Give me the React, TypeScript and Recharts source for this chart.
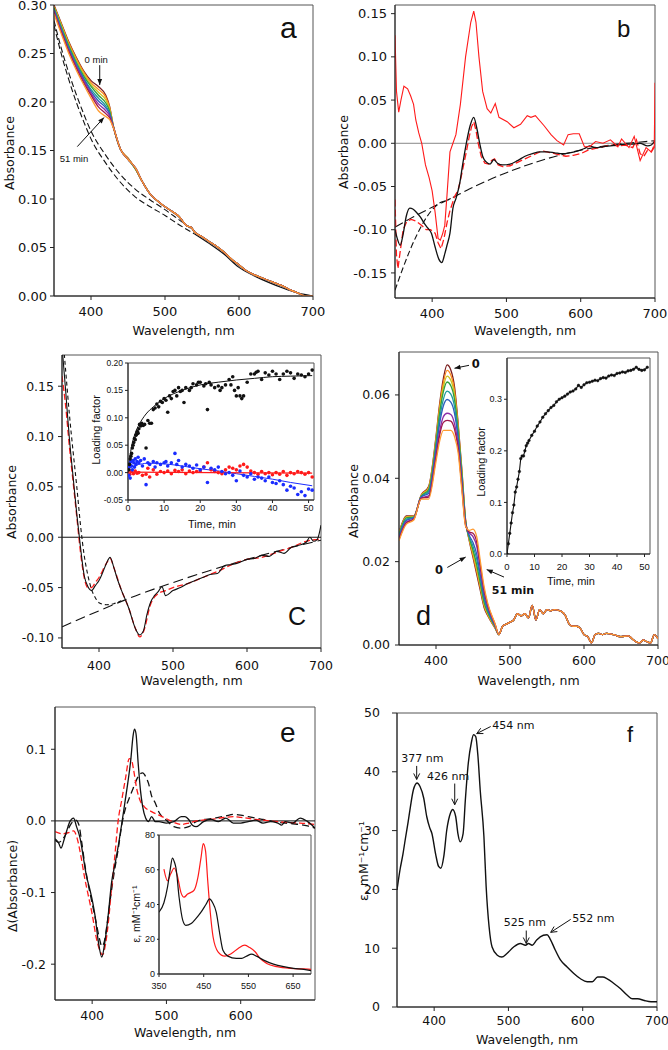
import React from 'react'
import {
  LineChart, ComposedChart, Line, Scatter, XAxis, YAxis,
  ReferenceLine, ReferenceArea, ReferenceDot,
} from 'recharts'

// ---------- panel a: spectra during loading, 0 .. 51 min ----------
const aWl = [350, 360, 370, 380, 390, 400, 410, 420, 425, 430, 440, 450, 460, 470]
const aCurves = [
  [.300, .281, .262, .246, .232, .222, .216, .207, .196, .176, .151, .142, .131, .117],
  [.299, .280, .261, .245, .231, .220, .213, .205, .195, .176, .151, .142, .131, .117],
  [.298, .279, .259, .243, .229, .218, .210, .202, .193, .176, .151, .142, .131, .117],
  [.297, .277, .258, .241, .227, .216, .207, .199, .191, .175, .151, .141, .131, .117],
  [.296, .276, .256, .240, .225, .213, .204, .196, .189, .175, .151, .141, .132, .117],
  [.295, .274, .255, .238, .224, .211, .201, .194, .188, .175, .151, .141, .132, .117],
  [.294, .273, .253, .237, .222, .209, .198, .191, .186, .175, .151, .141, .132, .117],
  [.292, .272, .252, .235, .220, .207, .195, .188, .184, .174, .151, .141, .132, .117],
  [.291, .270, .250, .233, .218, .204, .191, .185, .182, .174, .151, .141, .132, .117],
]
const aTailWl = [480, 490, 500, 510, 520, 525, 530, 535, 540, 550, 560, 570, 580, 590, 600, 610, 620, 630, 640, 650, 660, 670, 680, 690, 700]
const aTail = [.105, .098, .092, .087, .081, .076, .072, .071, .066, .061, .056, .051, .045, .038, .032, .026, .022, .019, .016, .013, .010, .006, .003, .000, .000]
const aDashWl = [350, 360, 370, 380, 390, 400, 420, 440, 460, 480, 500, 520, 540]
const aDash1 = [.284, .255, .230, .208, .188, .170, .145, .125, .110, .099, .089, .078, .067]
const aDash2 = [.279, .249, .223, .200, .180, .162, .137, .117, .102, .092, .083, .073, .064]
const aFitWl = [540, 560, 580, 600, 620, 640, 660, 680, 700]
const aFit = [.064, .054, .043, .0295, .021, .014, .008, .003, 0]

// ---------- panel b: difference spectra ----------
const bRedWl = [350, 352, 355, 358, 362, 367, 371, 375, 378, 382, 386, 391, 396, 400, 404, 408, 411, 414, 417, 420, 424, 428, 432, 438, 445, 452, 456, 459, 463, 468, 474, 479, 485, 490, 501, 510, 519, 528, 533, 539, 551, 560, 568, 577, 583, 590, 598, 605, 612, 620, 630, 640, 650, 655, 665, 672, 680, 688, 695, 699, 700]
const bRed = [.125, .06, .036, .05, .066, .063, .055, .045, .027, .012, .0, -.025, -.04, -.055, -.08, -.11, -.112, -.105, -.095, -.06, -.01, .0, .01, .045, .10, .14, .153, .14, .10, .06, .04, .035, .046, .03, .025, .018, .022, .032, .030, .032, .020, .010, .003, -.002, .010, .011, .011, -.004, -.004, .002, .0, .004, -.004, .005, -.005, .008, -.02, -.005, -.01, -.005, .07]
const bBlackWl = [350, 353, 357, 361, 365, 370, 374, 379, 384, 389, 394, 399, 404, 409, 413, 417, 420, 424, 428, 432, 437, 441, 446, 451, 456, 460, 464, 468, 472, 478, 483, 488, 495, 505, 515, 525, 535, 545, 555, 565, 575, 585, 595, 605, 612, 620, 630, 640, 650, 660, 670, 680, 690, 695, 700]
const bBlack = [-.100, -.110, -.118, -.105, -.085, -.075, -.076, -.080, -.085, -.092, -.098, -.104, -.12, -.134, -.138, -.128, -.118, -.104, -.075, -.064, -.047, -.025, .0, .02, .03, .018, .0, -.015, -.021, -.024, -.019, -.023, -.025, -.024, -.020, -.015, -.012, -.010, -.010, -.011, -.012, -.011, -.009, -.006, -.003, -.005, -.004, -.003, -.002, -.001, -.001, .0, -.003, -.002, .003]
const bRedDWl = [350, 352, 354, 357, 361, 366, 372, 378, 386, 392, 398, 404, 408, 412, 416, 420, 424, 430, 435, 440, 446, 450, 453, 456, 459, 462, 466, 471, 476, 480, 484, 489, 495, 505, 515, 525, 535, 545, 550, 560, 570, 580, 590, 600, 610, 620, 630, 640, 650, 660, 670, 675, 680, 685, 690, 695, 700]
const bRedD = [-.065, -.13, -.145, -.125, -.10, -.09, -.088, -.09, -.095, -.10, -.10, -.104, -.115, -.122, -.11, -.092, -.078, -.062, -.054, -.035, -.01, .008, .019, .025, .015, .0, -.015, -.023, -.024, -.02, -.018, -.025, -.027, -.026, -.022, -.018, -.014, -.010, -.009, -.011, -.013, -.015, -.014, -.012, -.008, -.006, -.004, -.002, -.003, -.002, -.005, .004, -.012, -.015, -.008, -.01, .0]
const bFit1Wl = [350, 375, 400, 425, 450, 475, 500, 525, 550, 575, 600, 625, 650, 675, 700]
const bFit1 = [-.097, -.085, -.074, -.064, -.053, -.043, -.034, -.026, -.019, -.013, -.008, -.004, -.001, .001, .003]
const bFit2Wl = [350, 360, 370, 380, 390, 400, 410, 420, 425]
const bFit2 = [-.17, -.146, -.124, -.105, -.089, -.077, -.069, -.066, -.064]

// ---------- panel c ----------
const cBlackWl = [350, 355, 360, 365, 370, 375, 380, 385, 390, 395, 400, 405, 410, 415, 420, 425, 430, 440, 450, 455, 460, 465, 470, 475, 480, 485, 490, 500, 510, 520, 530, 540, 550, 560, 570, 580, 590, 600, 610, 620, 630, 640, 650, 660, 670, 680, 685, 690, 695, 700]
const cBlack = [.19, .145, .098, .060, .023, -.010, -.038, -.049, -.053, -.048, -.043, -.035, -.026, -.020, -.030, -.042, -.052, -.070, -.092, -.097, -.093, -.076, -.064, -.058, -.054, -.049, -.058, -.053, -.050, -.046, -.043, -.040, -.037, -.036, -.028, -.027, -.025, -.022, -.021, -.018, -.019, -.014, -.016, -.010, -.008, -.005, .000, -.004, -.002, .012]
const cRedWl = [350, 355, 360, 365, 370, 375, 380, 385, 390, 395, 400, 410, 415, 420, 430, 440, 450, 455, 460, 470, 480, 490, 500, 520, 540, 560, 580, 600, 620, 640, 660, 680, 700]
const cRed = [.16, .13, .09, .055, .02, -.015, -.040, -.050, -.050, -.045, -.040, -.026, -.021, -.030, -.052, -.070, -.092, -.099, -.094, -.066, -.056, -.053, -.050, -.046, -.040, -.034, -.027, -.022, -.020, -.015, -.010, -.004, -.002]
const cShortWl = [350, 355, 360, 365, 370, 375, 380, 385, 390, 395, 400, 410, 420, 430]
const cShort = [.21, .165, .122, .085, .05, .012, -.018, -.038, -.052, -.060, -.065, -.067, -.066, -.063]
const cLongWl = [350, 400, 450, 500, 550, 600, 650, 700]
const cLong = [-.089, -.073, -.058, -.045, -.033, -.022, -.012, -.003]

// panel c inset: loading factors vs time
const cBlackT = [0.2, 0.4, 0.6, 0.8, 1, 1.2, 1.4, 1.6, 1.8, 2, 2.2, 2.4, 2.6, 2.8, 3, 3.2, 3.5, 3.8, 4.2, 4.6, 5, 5.5, 6, 6.5, 7, 7.5, 8, 8.5, 9, 9.5, 10, 10.5, 11, 11.5, 12, 12.5, 13, 13.5, 14, 14.5, 15, 15.5, 16, 17, 17.5, 18, 19, 19.5, 20, 21, 21.5, 22, 22.5, 23, 24, 25, 25.5, 26, 27, 28, 28.5, 29, 29.5, 30, 30.5, 31, 31.5, 32, 33, 34, 35, 35.5, 36, 37, 38, 39, 40, 41, 42, 43, 44, 45, 46, 47, 48, 49, 50, 51]
const cBlackV = [0.005, 0.015, 0.025, 0.03, 0.035, 0.045, 0.05, 0.055, 0.062, 0.06, 0.068, 0.07, 0.075, 0.072, 0.08, 0.088, 0.085, 0.09, 0.086, 0.088, 0.045, 0.095, 0.09, 0.09, 0.115, 0.118, 0.125, 0.12, 0.13, 0.128, 0.135, 0.132, 0.11, 0.14, 0.135, 0.148, 0.15, 0.14, 0.155, 0.148, 0.15, 0.128, 0.155, 0.15, 0.155, 0.162, 0.16, 0.165, 0.165, 0.158, 0.162, 0.115, 0.165, 0.16, 0.155, 0.158, 0.15, 0.155, 0.16, 0.17, 0.16, 0.175, 0.15, 0.14, 0.155, 0.14, 0.135, 0.14, 0.165, 0.18, 0.18, 0.183, 0.185, 0.17, 0.182, 0.178, 0.185, 0.18, 0.17, 0.18, 0.185, 0.182, 0.172, 0.18, 0.178, 0.175, 0.18, 0.187]
const cBlueT = [0.2, 0.3, 0.5, 0.6, 0.8, 1, 1.2, 1.4, 1.6, 1.8, 2, 2.2, 2.5, 2.8, 3, 3.5, 4, 4.5, 5, 5.5, 6, 7, 7.5, 8, 9, 10, 10.5, 11, 12, 13, 13.5, 14, 15, 16, 17, 18, 19, 20, 21, 22, 23, 24, 25, 26, 27, 28, 29, 30, 31, 32, 33, 34, 35, 36, 37, 38, 39, 40, 41, 42, 43, 44, 45, 46, 47, 48, 49, 50, 51]
const cBlueV = [-0.005, 0.01, 0.015, -0.01, 0.02, 0.012, 0.005, 0.022, 0.018, 0.01, 0.025, 0.015, 0.02, 0.028, 0.018, 0.022, 0.012, 0.025, -0.022, 0.018, 0.015, 0.02, 0.01, 0.018, 0.015, 0.018, 0.02, 0.012, 0.018, 0.035, 0.015, 0.022, 0.01, 0.015, 0.012, 0.008, 0.014, 0.005, 0.01, -0.018, 0.008, 0.005, 0.01, 0.002, -0.002, 0, -0.005, -0.015, 0.003, -0.005, -0.008, -0.002, -0.012, -0.008, -0.01, -0.015, -0.008, -0.018, -0.02, -0.015, -0.022, -0.032, -0.025, -0.028, -0.04, -0.035, -0.042, -0.03, -0.032]
const cRedT = [0.2, 0.5, 1, 1.5, 2, 2.5, 3, 4, 5, 5.5, 6, 7, 8, 9, 10, 11, 12, 13, 14, 15, 16, 17, 18, 19, 20, 21, 22, 23, 24, 25, 26, 27, 28, 29, 30, 31, 32, 33, 34, 35, 36, 37, 38, 39, 40, 41, 42, 43, 44, 45, 46, 47, 48, 49, 50, 51]
const cRedV = [0.005, -0.003, 0.002, -0.002, 0.003, -0.001, 0, -0.005, -0.003, 0.008, -0.008, 0.005, -0.003, 0.002, 0, 0.003, -0.002, 0.004, 0.002, 0.005, -0.002, 0.003, 0, 0.002, 0.003, 0.01, 0.018, 0.005, 0.002, 0, -0.002, 0.005, 0.01, 0.008, 0.005, 0.012, 0.015, 0.01, 0.003, 0, -0.003, 0.002, -0.002, 0, -0.004, 0, -0.003, 0.002, -0.005, 0, -0.002, 0.002, 0, -0.003, 0, -0.008]
const cFitT = [0, 0.5, 1, 2, 3, 4, 5, 7, 10, 15, 20, 25, 30, 35, 40, 45, 51]
const cFitBlack = [0, 0.028, 0.048, 0.072, 0.087, 0.098, 0.107, 0.12, 0.135, 0.150, 0.160, 0.165, 0.169, 0.172, 0.175, 0.176, 0.177]
const cFitBlue = [0.005, 0.008, 0.010, 0.013, 0.015, 0.016, 0.017, 0.017, 0.016, 0.012, 0.007, 0.003, -0.002, -0.007, -0.012, -0.018, -0.024]
const cFitRedT = [0, 51]
const cFitRed = [0.001, -0.001]

// ---------- panel d ----------
const dWl = [350, 360, 370, 380, 390, 400, 405, 410, 415, 420, 425, 430, 435, 440, 445, 450, 455, 460, 465, 470, 480]
const dCurves = [
  [.027, .031, .031, .036, .038, .050, .058, .064, .0672, .066, .062, .053, .042, .030, .025, .021, .017, .013, .009, .007, .004],
  [.0268, .0308, .0309, .0359, .0378, .0495, .0573, .0630, .0659, .0648, .0610, .0524, .0416, .0299, .0252, .0215, .0177, .0136, .0094, .0072, .0041],
  [.0267, .0307, .0308, .0358, .0375, .0490, .0565, .0619, .0645, .0635, .0600, .0518, .0412, .0297, .0254, .0222, .0185, .0142, .0099, .0075, .0042],
  [.0265, .0305, .0307, .0357, .0372, .0484, .0557, .0608, .0631, .0622, .0589, .0512, .0407, .0296, .0257, .0228, .0193, .0148, .0103, .0078, .0043],
  [.0262, .0302, .0306, .0356, .0368, .0476, .0544, .0590, .0609, .0602, .0572, .0502, .0400, .0294, .0260, .0237, .0206, .0158, .0110, .0082, .0044],
  [.0259, .0299, .0305, .0355, .0364, .0468, .0532, .0574, .0589, .0583, .0556, .0493, .0394, .0292, .0263, .0246, .0218, .0167, .0117, .0086, .0045],
  [.0255, .0295, .0303, .0353, .0358, .0456, .0513, .0548, .0556, .0553, .0531, .0478, .0383, .0289, .0269, .0260, .0237, .0182, .0127, .0092, .0047],
  [.0253, .0293, .0302, .0352, .0355, .0449, .0504, .0534, .0539, .0537, .0518, .0471, .0378, .0287, .0271, .0268, .0247, .0190, .0133, .0096, .0049],
  [.025, .029, .030, .035, .035, .044, .049, .0515, .0515, .0515, .050, .046, .037, .0285, .0275, .0278, .026, .020, .014, .010, .005],
]
const dTailWl = [485, 490, 495, 500, 505, 510, 515, 520, 525, 530, 535, 540, 545, 550, 555, 560, 570, 575, 580, 585, 590, 595, 600, 605, 610, 615, 620, 625, 630, 640, 650, 660, 665, 670, 675, 680, 685, 690, 695, 700]
const dTail = [.0025, .0045, .005, .0055, .006, .0075, .007, .0075, .0065, .0095, .006, .0085, .0075, .0085, .0082, .0085, .008, .007, .005, .0045, .0045, .004, .0025, .002, .0005, .0025, .0028, .0025, .0028, .0025, .002, .0022, .0015, .0008, .0005, .0012, .0008, .0005, .0025, .0015]
const dInT = [0, 0.5, 1, 1.5, 2, 2.5, 3, 3.5, 4, 4.5, 5, 5.5, 6, 6.5, 7, 7.5, 8, 9, 10, 11, 12, 13, 14, 15, 16, 17, 18, 19, 20, 21, 22, 23, 24, 25, 26, 27, 28, 29, 30, 31, 32, 33, 34, 35, 36, 37, 38, 39, 40, 41, 42, 43, 44, 45, 46, 47, 48, 49, 50, 51]
const dInV = [0, 0.02, 0.04, 0.06, 0.08, 0.095, 0.12, 0.13, 0.145, 0.16, 0.185, 0.19, 0.19, 0.2, 0.21, 0.215, 0.22, 0.23, 0.238, 0.248, 0.256, 0.265, 0.272, 0.278, 0.284, 0.288, 0.295, 0.3, 0.303, 0.306, 0.31, 0.314, 0.316, 0.32, 0.327, 0.323, 0.328, 0.332, 0.333, 0.335, 0.337, 0.336, 0.34, 0.342, 0.341, 0.345, 0.347, 0.346, 0.35, 0.351, 0.353, 0.352, 0.355, 0.356, 0.358, 0.362, 0.358, 0.356, 0.357, 0.362]

// ---------- panel e ----------
const eBlackWl = [350, 355, 358, 362, 366, 370, 375, 379, 384, 388, 392, 397, 401, 404, 408, 413, 417, 422, 426, 431, 435, 440, 444, 448, 452, 455, 457, 459, 462, 465, 468, 472, 476, 480, 485, 490, 500, 510, 520, 525, 530, 535, 540, 550, 560, 570, 580, 590, 600, 610, 620, 630, 640, 650, 655, 660, 670, 680, 690, 695, 700]
const eBlack = [-.025, -.031, -.038, -.027, -.013, -.001, .004, -.008, -.025, -.050, -.075, -.096, -.115, -.133, -.166, -.190, -.170, -.128, -.087, -.059, -.036, -.003, .025, .053, .085, .118, .128, .122, .080, .043, .020, .004, -.001, .006, -.001, -.001, -.003, -.001, .006, .006, .002, -.006, -.008, -.001, .002, -.001, .004, -.003, -.003, -.001, .001, -.003, -.001, -.003, -.006, -.001, -.003, .004, -.001, -.005, -.010]
const eDashWl = [350, 355, 360, 365, 370, 374, 378, 382, 386, 390, 395, 400, 405, 410, 413, 416, 420, 425, 430, 435, 440, 445, 450, 455, 460, 465, 468, 472, 476, 480, 485, 490, 500, 510, 520, 530, 540, 550, 560, 570, 580, 590, 600, 610, 620, 630, 640, 650, 660, 670, 680, 690, 700]
const eDash = [-.027, -.030, -.026, -.018, -.007, -.001, .001, -.005, -.03, -.06, -.09, -.115, -.14, -.165, -.175, -.17, -.145, -.105, -.07, -.04, -.005, .018, .032, .045, .058, .066, .067, .062, .052, .035, .025, .012, .001, -.008, -.010, -.008, -.001, .002, .003, .005, .007, .009, .008, .006, .004, .002, .0, -.002, -.003, -.004, -.005, -.007, -.010]
const eRedWl = [350, 360, 370, 375, 380, 385, 390, 395, 400, 405, 410, 414, 418, 422, 426, 430, 435, 440, 445, 450, 453, 456, 460, 464, 470, 480, 490, 500, 510, 520, 530, 540, 560, 580, 590, 600, 620, 640, 660, 680, 700]
const eRed = [-.015, -.018, -.016, -.014, -.025, -.05, -.08, -.105, -.13, -.16, -.18, -.187, -.172, -.14, -.095, -.055, .0, .030, .06, .087, .085, .07, .045, .03, .02, .013, .008, .003, -.002, -.005, -.003, .0, .002, .005, .006, .005, .002, .0, -.002, -.003, -.005]
const eInBlackWl = [350, 361, 369, 375, 380, 385, 388, 395, 403, 410, 422, 433, 444, 455, 463, 470, 478, 486, 493, 504, 523, 535, 546, 557, 568, 584, 606, 629, 651, 674, 690]
const eInBlack = [35.6, 41, 50, 60, 66.7, 64, 61, 44, 31, 28, 29, 32, 35.6, 40, 43.2, 41, 35.6, 23, 13.7, 10.3, 9, 9, 10.3, 11.4, 10.3, 8, 5.7, 4.2, 3.2, 2.7, 1.9]
const eInRedWl = [361, 369, 376, 384, 391, 399, 406, 414, 422, 429, 437, 444, 449, 454, 459, 465, 471, 482, 497, 512, 527, 542, 553, 565, 576, 591, 614, 644, 674, 690]
const eInRed = [60.4, 53.7, 57.5, 61, 56.6, 47, 44.2, 46, 47, 48.4, 55.6, 67, 75, 71, 53.7, 34.7, 21.3, 12.8, 10.3, 11.8, 14.7, 16.6, 15.2, 12.8, 9, 6.1, 4.2, 3.2, 2.9, 2.7]

// ---------- panel f ----------
const fWl = [350, 354, 358, 361, 365, 368, 372, 377, 381, 386, 390, 394, 397, 402, 406, 409, 413, 417, 422, 425, 429, 432, 435, 439, 442, 446, 450, 453, 456, 459, 462, 467, 470, 474, 478, 485, 491, 498, 507, 516, 523, 527, 532, 538, 547, 552, 556, 563, 570, 579, 588, 597, 606, 613, 620, 627, 633, 642, 651, 660, 667, 674, 683, 692, 700]
const fEps = [19.9, 23.3, 26, 28.4, 31.5, 34, 36.9, 38.1, 37.5, 35.5, 32.4, 30.5, 29.5, 26, 23.9, 23.6, 25.6, 30.1, 33, 33.6, 32.4, 29.5, 28.1, 29.5, 35.2, 41.5, 44.9, 46.3, 46, 42.6, 36.9, 29, 20.5, 13.6, 10.2, 8.8, 8.5, 9.1, 10.2, 10.8, 10.5, 10.8, 10.5, 11.4, 12.2, 12.3, 11.6, 9.7, 8, 6.8, 5.7, 4.8, 4.3, 4.3, 5.1, 5.1, 4.8, 4, 3.1, 2, 1.4, 1.4, 1.1, 0.9, 0.9]

const WL_TICKS = [400, 500, 600, 700]
const FAMILY = ['#7a1c1c', '#ff8a1c', '#c9c21e', '#2f9e3b', '#1e9b9b', '#2b5fbb', '#8b2ea8', '#a0184a', '#ff9b30']
const RED = '#ff1a1a'
const AX = '#222'
const BOX = '#555'
const INSET_FONT = '"Liberation Sans", Arial, sans-serif'

const pts = (xs: number[], ys: number[]) => xs.map((x, i) => ({ x, y: ys[i] }))

const yTitle = (text: string, x: number, cy: number, size = 12.5, family?: string) => ({
  content: () => (
    <text x={x} y={cy} transform={`rotate(-90 ${x} ${cy})`} textAnchor="middle" fontSize={size} fill="#111" fontFamily={family}>{text}</text>
  ),
})
const xTitle = (text: string, cx: number, y: number, size = 12.5, family?: string) => ({
  content: () => (
    <text x={cx} y={y} textAnchor="middle" fontSize={size} fill="#111" fontFamily={family}>{text}</text>
  ),
})

const textShape = (text: string, size: number, anchor: 'start' | 'middle' | 'end' = 'middle', extra: any = {}) =>
  (p: any) => <text x={p.cx} y={p.cy} fontSize={size} textAnchor={anchor} fill="#111" {...extra}>{text}</text>

const arrowShape = (filled: boolean) => (p: any) => {
  const { x1, y1, x2, y2 } = p
  const a = Math.atan2(y2 - y1, x2 - x1)
  const L = 6
  const W = filled ? 2.4 : 3
  const bx = x2 - L * Math.cos(a)
  const by = y2 - L * Math.sin(a)
  const ox = W * Math.sin(a)
  const oy = -W * Math.cos(a)
  const head = `${bx + ox},${by + oy} ${x2},${y2} ${bx - ox},${by - oy}`
  return (
    <g>
      <line x1={x1} y1={y1} x2={x2} y2={y2} stroke="#111" strokeWidth={1} />
      {filled ? <polygon points={head} fill="#111" /> : <polyline points={head} fill="none" stroke="#111" strokeWidth={1} />}
    </g>
  )
}

const lineProps = { dataKey: 'y', dot: false, activeDot: false, isAnimationActive: false, type: 'monotone' as const, strokeWidth: 1.3 }

function Place({ left, top, children }: { left: number; top: number; children: React.ReactNode }) {
  return <div style={{ position: 'absolute', left, top }}>{children}</div>
}

function PanelA() {
  return (
    <Place left={0} top={0}>
      <LineChart width={325} height={341} margin={{ top: 5, right: 12, bottom: 0, left: 0 }}>
        <XAxis type="number" dataKey="x" domain={[350, 700]} ticks={WL_TICKS} interval={0} allowDataOverflow height={45}
          tickSize={4} tickMargin={7} stroke={AX} tick={{ fontSize: 13, fill: '#111' }} label={xTitle('Wavelength, nm', 183.5, 335)} />
        <YAxis type="number" domain={[0, 0.3]} ticks={[0, 0.05, 0.1, 0.15, 0.2, 0.25, 0.3]} interval={0} allowDataOverflow width={54}
          tickSize={4} tickMargin={3} stroke={AX} tick={{ fontSize: 13, fill: '#111' }} tickFormatter={(v: number) => v.toFixed(2)}
          label={yTitle('Absorbance', 14, 153)} />
        <ReferenceArea x1={350} x2={700} y1={0} y2={0.3} fill="none" stroke={BOX} />
        <Line {...lineProps} data={pts(aDashWl, aDash1)} stroke="#111" strokeWidth={1.1} strokeDasharray="6 3" />
        <Line {...lineProps} data={pts(aDashWl, aDash2)} stroke="#111" strokeWidth={1.1} strokeDasharray="6 3" />
        <Line {...lineProps} data={pts(aFitWl, aFit)} stroke="#111" strokeWidth={1.2} />
        {aCurves.map((c, i) => (
          <Line key={i} {...lineProps} data={[...pts(aWl, c), ...pts(aTailWl, aTail)]} stroke={FAMILY[i]} />
        ))}
        <ReferenceLine segment={[{ x: 411.8, y: 0.238 }, { x: 411.8, y: 0.2175 }]} shape={arrowShape(true)} />
        <ReferenceLine segment={[{ x: 381.5, y: 0.154 }, { x: 417.6, y: 0.184 }]} shape={arrowShape(true)} />
        <ReferenceDot x={407} y={0.240} shape={textShape('0 min', 9.5, 'middle', { fontFamily: INSET_FONT })} />
        <ReferenceDot x={377} y={0.138} shape={textShape('51 min', 9.5, 'middle', { fontFamily: INSET_FONT })} />
        <ReferenceDot x={655.4} y={0.266} shape={textShape('a', 30, 'start', { fontFamily: INSET_FONT })} />
      </LineChart>
    </Place>
  )
}

function PanelB() {
  return (
    <Place left={334} top={0}>
      <LineChart width={333} height={340} margin={{ top: 5, right: 12, bottom: 0, left: 0 }}>
        <XAxis type="number" dataKey="x" domain={[350, 700]} ticks={WL_TICKS} interval={0} allowDataOverflow height={42}
          tickSize={4} tickMargin={7} stroke={AX} tick={{ fontSize: 13, fill: '#111' }} label={xTitle('Wavelength, nm', 191, 335)} />
        <YAxis type="number" domain={[-0.179, 0.16]} ticks={[-0.15, -0.1, -0.05, 0, 0.05, 0.1, 0.15]} interval={0} allowDataOverflow width={61}
          tickSize={4} tickMargin={4} stroke={AX} tick={{ fontSize: 13, fill: '#111' }} tickFormatter={(v: number) => v.toFixed(2)}
          label={yTitle('Absorbance', 14, 152)} />
        <ReferenceArea x1={350} x2={700} y1={-0.179} y2={0.16} fill="none" stroke={BOX} />
        <ReferenceLine y={0} stroke="#888" strokeWidth={1} />
        <Line {...lineProps} data={pts(bFit1Wl, bFit1)} stroke="#111" strokeWidth={1.1} strokeDasharray="9 4" />
        <Line {...lineProps} data={pts(bFit2Wl, bFit2)} stroke="#111" strokeWidth={1.1} strokeDasharray="6 3" />
        <Line {...lineProps} type="linear" data={pts(bRedDWl, bRedD)} stroke={RED} strokeDasharray="7 3" />
        <Line {...lineProps} data={pts(bBlackWl, bBlack)} stroke="#111" />
        <Line {...lineProps} type="linear" data={pts(bRedWl, bRed)} stroke={RED} strokeWidth={1.1} />
        <ReferenceDot x={648.8} y={0.1228} shape={textShape('b', 24, 'start', { fontFamily: INSET_FONT })} />
      </LineChart>
    </Place>
  )
}

function PanelC() {
  return (
    <>
      <Place left={0} top={340}>
        <LineChart width={333} height={358} margin={{ top: 15, right: 12, bottom: 0, left: 0 }}>
          <XAxis type="number" dataKey="x" domain={[350, 700]} ticks={WL_TICKS} interval={0} allowDataOverflow height={50}
            tickSize={4} tickMargin={9} stroke={AX} tick={{ fontSize: 12.5, fill: '#111' }} label={xTitle('Wavelength, nm', 191.5, 345)} />
          <YAxis type="number" domain={[-0.11, 0.181]} ticks={[-0.1, -0.05, 0, 0.05, 0.1, 0.15]} interval={0} allowDataOverflow width={62}
            tickSize={4} tickMargin={4} stroke={AX} tick={{ fontSize: 12.5, fill: '#111' }} tickFormatter={(v: number) => v.toFixed(2)}
            label={yTitle('Absorbance', 16, 162)} />
          <ReferenceArea x1={350} x2={700} y1={-0.11} y2={0.181} fill="none" stroke={BOX} />
          <ReferenceLine y={0} stroke="#111" strokeWidth={1} />
          <Line {...lineProps} data={pts(cLongWl, cLong)} stroke="#111" strokeWidth={1.1} strokeDasharray="10 5" />
          <Line {...lineProps} data={pts(cShortWl, cShort)} stroke="#111" strokeWidth={1.1} strokeDasharray="4 3" />
          <Line {...lineProps} data={pts(cRedWl, cRed)} stroke={RED} strokeDasharray="6 3" />
          <Line {...lineProps} data={pts(cBlackWl, cBlack)} stroke="#111" strokeWidth={1.1} />
          <ReferenceDot x={655.4} y={-0.0873} shape={textShape('C', 25, 'start', { fontFamily: INSET_FONT })} />
        </LineChart>
      </Place>
      <Place left={85} top={358}>
        <ComposedChart width={234} height={174} margin={{ top: 5, right: 5, bottom: 0, left: 0 }}>
          <XAxis type="number" dataKey="x" domain={[0, 51.5]} ticks={[0, 10, 20, 30, 40, 50]} interval={0} allowDataOverflow height={32}
            tickSize={3} tickMargin={2} stroke={AX} tick={{ fontSize: 9, fill: '#111', fontFamily: INSET_FONT }}
            label={xTitle('Time, min', 127, 170, 11, INSET_FONT)} />
          <YAxis type="number" dataKey="y" domain={[-0.05, 0.2]} ticks={[-0.05, 0, 0.05, 0.1, 0.15, 0.2]} interval={0} allowDataOverflow width={43}
            tickSize={3} tickMargin={2} stroke={AX} tick={{ fontSize: 8.5, fill: '#111', fontFamily: INSET_FONT }}
            tickFormatter={(v: number) => v.toFixed(2)} label={yTitle('Loading factor', 15, 72, 11, INSET_FONT)} />
          <ReferenceArea x1={0} x2={51.5} y1={-0.05} y2={0.2} fill="#fff" fillOpacity={1} stroke={BOX} />
          <Scatter data={pts(cRedT, cRedV)} isAnimationActive={false} shape={(p: any) => <circle cx={p.cx} cy={p.cy} r={1.8} fill={RED} />} />
          <Scatter data={pts(cBlueT, cBlueV)} isAnimationActive={false} shape={(p: any) => <circle cx={p.cx} cy={p.cy} r={1.8} fill="#1a2cff" />} />
          <Scatter data={pts(cBlackT, cBlackV)} isAnimationActive={false} shape={(p: any) => <circle cx={p.cx} cy={p.cy} r={1.8} fill="#111" />} />
          <Line {...lineProps} data={pts(cFitT, cFitBlack)} stroke="#111" strokeWidth={1} />
          <Line {...lineProps} data={pts(cFitT, cFitBlue)} stroke="#1a2cff" strokeWidth={1} />
          <Line {...lineProps} data={pts(cFitRedT, cFitRed)} stroke={RED} strokeWidth={1.3} />
        </ComposedChart>
      </Place>
    </>
  )
}

function PanelD() {
  return (
    <>
      <Place left={334} top={340}>
        <LineChart width={334} height={355} margin={{ top: 12, right: 10, bottom: 0, left: 0 }}>
          <XAxis type="number" dataKey="x" domain={[350, 700]} ticks={WL_TICKS} interval={0} allowDataOverflow height={50}
            tickSize={4} tickMargin={7} stroke={AX} tick={{ fontSize: 12.5, fill: '#111' }} label={xTitle('Wavelength, nm', 194.5, 345)} />
          <YAxis type="number" domain={[0, 0.0703]} ticks={[0, 0.02, 0.04, 0.06]} interval={0} allowDataOverflow width={65}
            tickSize={4} tickMargin={5} stroke={AX} tick={{ fontSize: 12.5, fill: '#111' }} tickFormatter={(v: number) => v.toFixed(2)}
            label={yTitle('Absorbance', 24, 161)} />
          <ReferenceArea x1={350} x2={700} y1={0} y2={0.0703} fill="none" stroke={BOX} />
          {dCurves.map((c, i) => (
            <Line key={i} {...lineProps} data={[...pts(dWl, c), ...pts(dTailWl, dTail)]} stroke={FAMILY[i]} />
          ))}
          <ReferenceLine segment={[{ x: 444.6, y: 0.0671 }, { x: 425, y: 0.0664 }]} shape={arrowShape(true)} />
          <ReferenceLine segment={[{ x: 415.3, y: 0.0186 }, { x: 440.1, y: 0.0211 }]} shape={arrowShape(true)} />
          <ReferenceLine segment={[{ x: 491.9, y: 0.0163 }, { x: 468.5, y: 0.0181 }]} shape={arrowShape(true)} />
          <ReferenceDot x={453.6} y={0.0664} shape={textShape('0', 11.5, 'middle', { fontWeight: 'bold' })} />
          <ReferenceDot x={404} y={0.0170} shape={textShape('0', 11.5, 'middle', { fontWeight: 'bold' })} />
          <ReferenceDot x={504} y={0.0122} shape={textShape('51 min', 11, 'middle', { fontWeight: 'bold' })} />
          <ReferenceDot x={373} y={0.0048} shape={textShape('d', 27, 'start', { fontFamily: INSET_FONT })} />
        </LineChart>
      </Place>
      <Place left={470} top={353}>
        <LineChart width={186} height={237} margin={{ top: 5, right: 6, bottom: 0, left: 0 }}>
          <XAxis type="number" dataKey="x" domain={[0, 52]} ticks={[0, 10, 20, 30, 40, 50]} interval={0} allowDataOverflow height={36}
            tickSize={3} tickMargin={6} stroke={AX} tick={{ fontSize: 9.5, fill: '#111', fontFamily: INSET_FONT }}
            label={xTitle('Time, min', 101, 232, 11, INSET_FONT)} />
          <YAxis type="number" domain={[0, 0.38]} ticks={[0, 0.1, 0.2, 0.3]} interval={0} allowDataOverflow width={37}
            tickSize={3} tickMargin={2} stroke={AX} tick={{ fontSize: 9, fill: '#111', fontFamily: INSET_FONT }}
            tickFormatter={(v: number) => v.toFixed(1)} label={yTitle('Loading factor', 15, 109, 11, INSET_FONT)} />
          <ReferenceArea x1={0} x2={52} y1={0} y2={0.38} fill="#fff" fillOpacity={1} stroke={BOX} />
          <Line {...lineProps} type="linear" data={pts(dInT, dInV)} stroke="#111" strokeWidth={1.1}
            dot={{ r: 1.3, fill: '#111', stroke: '#111', strokeWidth: 0.5 }} />
        </LineChart>
      </Place>
    </>
  )
}

function PanelE() {
  return (
    <>
      <Place left={0} top={690}>
        <LineChart width={330} height={360} margin={{ top: 17, right: 15, bottom: 0, left: 0 }}>
          <XAxis type="number" dataKey="x" domain={[350, 700]} ticks={[400, 500, 600]} interval={0} allowDataOverflow height={50}
            tickSize={4} tickMargin={7} stroke={AX} tick={{ fontSize: 12.5, fill: '#111' }} label={xTitle('Wavelength, nm', 185, 347)} />
          <YAxis type="number" domain={[-0.25, 0.159]} ticks={[-0.2, -0.1, 0, 0.1]} interval={0} allowDataOverflow width={55}
            tickSize={4} tickMargin={5} stroke={AX} tick={{ fontSize: 12.5, fill: '#111' }} tickFormatter={(v: number) => v.toFixed(1)}
            label={yTitle('Δ(Absorbance)', 17, 196)} />
          <ReferenceArea x1={350} x2={700} y1={-0.25} y2={0.159} fill="none" stroke={BOX} />
          <ReferenceLine y={0} stroke="#111" strokeWidth={1} />
          <Line {...lineProps} data={pts(eDashWl, eDash)} stroke="#111" strokeDasharray="7 4" />
          <Line {...lineProps} data={pts(eRedWl, eRed)} stroke={RED} strokeDasharray="6 3" />
          <Line {...lineProps} data={pts(eBlackWl, eBlack)} stroke="#111" />
          <ReferenceDot x={652.8} y={0.110} shape={textShape('e', 28, 'start', { fontFamily: INSET_FONT })} />
        </LineChart>
      </Place>
      <Place left={130} top={830}>
        <LineChart width={186} height={166} margin={{ top: 5, right: 5, bottom: 0, left: 0 }}>
          <XAxis type="number" dataKey="x" domain={[350, 690]} ticks={[350, 450, 550, 650]} interval={0} allowDataOverflow height={22}
            tickSize={3} tickMargin={6} stroke={AX} tick={{ fontSize: 9, fill: '#111', fontFamily: INSET_FONT }} />
          <YAxis type="number" domain={[0, 80]} ticks={[0, 20, 40, 60, 80]} interval={0} allowDataOverflow width={29}
            tickSize={2} tickMargin={2} stroke={AX} tick={{ fontSize: 9, fill: '#111', fontFamily: INSET_FONT }}
            label={yTitle('ε, mM⁻¹cm⁻¹', 10, 84, 10.5, INSET_FONT)} />
          <ReferenceArea x1={350} x2={690} y1={0} y2={80} fill="#fff" fillOpacity={1} stroke={BOX} />
          <Line {...lineProps} data={pts(eInRedWl, eInRed)} stroke={RED} strokeWidth={1.2} />
          <Line {...lineProps} data={pts(eInBlackWl, eInBlack)} stroke="#111" strokeWidth={1.2} />
        </LineChart>
      </Place>
    </>
  )
}

function PanelF() {
  const ann = { fontSize: 11 }
  return (
    <Place left={334} top={690}>
      <LineChart width={334} height={360} margin={{ top: 23, right: 11, bottom: 0, left: 0 }}>
        <XAxis type="number" dataKey="x" domain={[350, 700]} ticks={WL_TICKS} interval={0} allowDataOverflow height={43}
          tickSize={4} tickMargin={5} stroke={AX} tick={{ fontSize: 12.5, fill: '#111' }} label={xTitle('Wavelength, nm', 193, 354)} />
        <YAxis type="number" domain={[0, 50]} ticks={[0, 10, 20, 30, 40, 50]} interval={0} allowDataOverflow width={63}
          tickSize={5} tickMargin={12} stroke={AX} tick={{ fontSize: 12.5, fill: '#111' }}
          label={yTitle('ε, mM⁻¹cm⁻¹', 34, 171)} />
        <ReferenceArea x1={350} x2={700} y1={0} y2={50} fill="none" stroke={BOX} />
        <Line {...lineProps} data={pts(fWl, fEps)} stroke="#111" strokeWidth={1.4} />
        <ReferenceLine segment={[{ x: 476.1, y: 47.7 }, { x: 457.3, y: 46.5 }]} shape={arrowShape(false)} />
        <ReferenceLine segment={[{ x: 376.5, y: 41.0 }, { x: 376.5, y: 38.7 }]} shape={arrowShape(false)} />
        <ReferenceLine segment={[{ x: 427.7, y: 38.0 }, { x: 427.7, y: 34.4 }]} shape={arrowShape(false)} />
        <ReferenceLine segment={[{ x: 524, y: 13.0 }, { x: 524, y: 10.8 }]} shape={arrowShape(false)} />
        <ReferenceLine segment={[{ x: 583.8, y: 14.9 }, { x: 556.9, y: 12.7 }]} shape={arrowShape(false)} />
        <ReferenceDot x={478.3} y={47.3} shape={textShape('454 nm', ann.fontSize, 'start')} />
        <ReferenceDot x={384.1} y={41.7} shape={textShape('377 nm', ann.fontSize)} />
        <ReferenceDot x={418.9} y={38.6} shape={textShape('426 nm', ann.fontSize)} />
        <ReferenceDot x={522} y={13.7} shape={textShape('525 nm', ann.fontSize)} />
        <ReferenceDot x={586} y={14.5} shape={textShape('552 nm', ann.fontSize, 'start')} />
        <ReferenceDot x={659.6} y={45.1} shape={textShape('f', 22, 'start', { fontFamily: INSET_FONT })} />
      </LineChart>
    </Place>
  )
}

export default function App() {
  return (
    <div style={{ position: 'absolute', left: 0, top: 0, width: 668, height: 1050, background: '#fff', fontFamily: '"DejaVu Sans", Verdana, sans-serif' }}>
      <PanelA />
      <PanelB />
      <PanelC />
      <PanelD />
      <PanelE />
      <PanelF />
    </div>
  )
}
